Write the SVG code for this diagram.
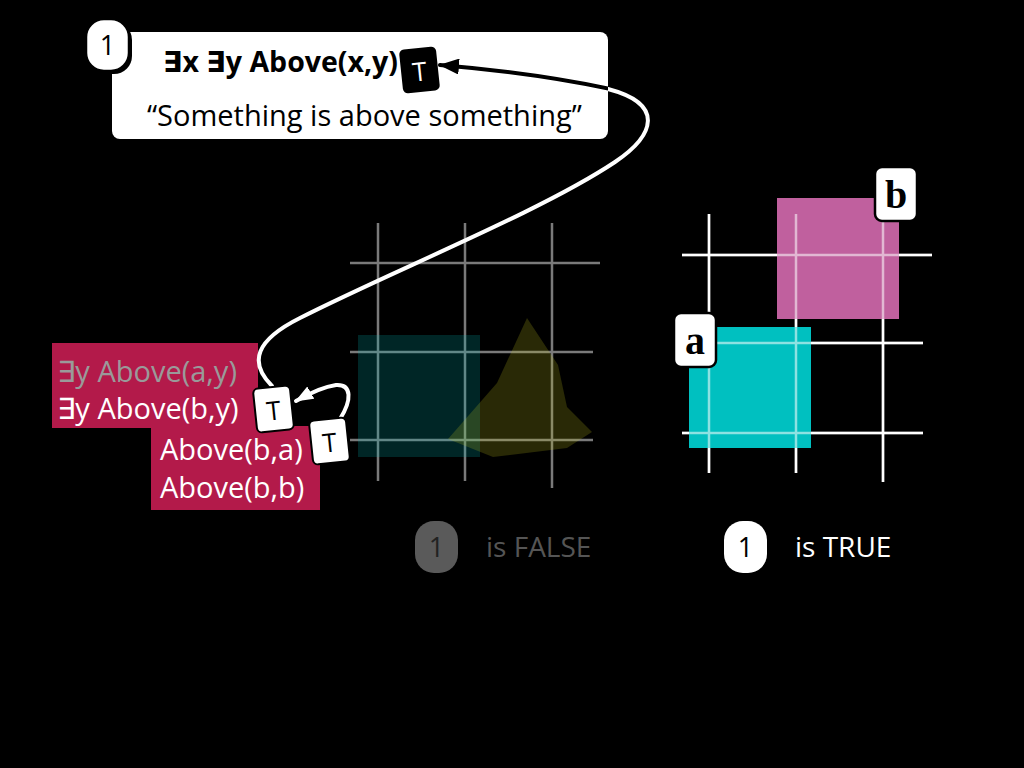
<svg xmlns="http://www.w3.org/2000/svg" width="1024" height="768" viewBox="0 0 1024 768">
<defs>
<style>
.t{font-family:"Open Sans","Noto Sans","DejaVu Sans",sans-serif}
.gl{stroke:#7a7a7a;stroke-width:2.5;fill:none}
.wl{stroke:#ffffff;stroke-width:2.5;fill:none}
.red{fill:#b31a4a}
.lbl{fill:#fff;stroke:#000;stroke-width:2.5}
</style>
<marker id="ahB" viewBox="0 0 20 16" refX="19" refY="8" markerWidth="20" markerHeight="16" markerUnits="userSpaceOnUse" orient="auto"><path d="M0,0 L20,8 L0,16 Z" fill="#000"/></marker>
<marker id="ahW" viewBox="0 0 18 14" refX="17" refY="7" markerWidth="18" markerHeight="14" markerUnits="userSpaceOnUse" orient="auto"><path d="M0,0 L18,7 L0,14 Z" fill="#fff"/></marker>
<clipPath id="inBox"><rect x="112" y="32" width="496" height="107" rx="8"/></clipPath>
<clipPath id="outBox"><path d="M0,0H1024V768H0Z M112,32 V139 H608 V32 Z" clip-rule="evenodd"/></clipPath>
</defs>
<rect width="1024" height="768" fill="#000"/>

<!-- left (false) world -->
<g id="world-false">
<g class="gl">
<line x1="378" y1="223" x2="378" y2="481"/><line x1="465" y1="223" x2="465" y2="481"/><line x1="552" y1="223" x2="552" y2="488"/>
<line x1="350" y1="263" x2="600" y2="263"/><line x1="350" y1="352" x2="593" y2="352"/><line x1="350" y1="440" x2="593" y2="440"/>
</g>
<rect x="358" y="335" width="122" height="122" fill="#00bebe" opacity="0.2"/>
<polygon points="527,318 558,365 567,407 592,432 567,448 493,457 448,439 497,383" fill="#cccc20" opacity="0.2"/>
</g>

<!-- right (true) world -->
<g id="world-true">
<g class="wl">
<line x1="709" y1="214" x2="709" y2="473"/><line x1="796" y1="214" x2="796" y2="473"/><line x1="883" y1="214" x2="883" y2="482"/>
<line x1="682" y1="255" x2="932" y2="255"/><line x1="682" y1="343" x2="923" y2="343"/><line x1="682" y1="433" x2="923" y2="433"/>
</g>
<rect id="sq-b" x="777" y="198" width="122" height="121" fill="#c0609e"/>
<rect id="sq-a" x="689" y="327" width="122" height="121" fill="#00c0c0"/>
<g class="wl" opacity="0.55">
<line x1="709" y1="214" x2="709" y2="473"/><line x1="796" y1="214" x2="796" y2="473"/><line x1="883" y1="214" x2="883" y2="482"/>
<line x1="682" y1="255" x2="932" y2="255"/><line x1="682" y1="343" x2="923" y2="343"/><line x1="682" y1="433" x2="923" y2="433"/>
</g>
</g>
<g id="label-b"><rect class="lbl" x="875" y="167" width="42" height="54" rx="7"/><text x="896" y="208" text-anchor="middle" font-family="Liberation Serif,serif" font-weight="bold" font-size="40" fill="#000">b</text></g>
<g id="label-a"><rect class="lbl" x="674" y="313" width="42" height="54" rx="7"/><text x="695" y="354" text-anchor="middle" font-family="Liberation Serif,serif" font-weight="bold" font-size="40" fill="#000">a</text></g>

<!-- sentence box -->
<g id="sentence">
<rect x="112" y="32" width="496" height="107" rx="8" fill="#fff"/>
<text class="t" x="163" y="72" font-size="28.5" font-weight="bold" fill="#000">∃x ∃y Above(x,y)</text>
<text class="t" x="147" y="126" font-size="29" fill="#000">“Something is above something”</text>
</g>
<g id="badge-1">
<rect x="89" y="22" width="43" height="52" rx="18" fill="#000"/>
<rect x="86" y="19" width="43" height="52" rx="18" fill="#fff" stroke="#000" stroke-width="2.5"/>
<text class="t" x="107.5" y="55" text-anchor="middle" font-size="27" fill="#000">1</text>
</g>

<!-- red boxes -->
<g id="box-exists">
<rect class="red" x="52" y="343" width="206" height="85"/>
<text class="t" x="57" y="382" font-size="29" fill="#9a9a9a">∃y Above(a,y)</text>
<text class="t" x="57" y="419" font-size="29" fill="#fff">∃y Above(b,y)</text>
</g>
<g id="box-above">
<rect class="red" x="151" y="426" width="169" height="84"/>
<text class="t" x="160" y="460" font-size="29" fill="#fff">Above(b,a)</text>
<text class="t" x="160" y="498" font-size="29" fill="#fff">Above(b,b)</text>
</g>

<!-- connectors -->
<g id="connectors" fill="none" stroke-linecap="round">
<path d="M272,386 C248,362 256,340 300,318 C390,272 540,212 615,162 C655,135 665,104 608,89" stroke="#fff" stroke-width="4" clip-path="url(#outBox)"/>
<path d="M615,90 C560,78 500,70 440,65" stroke="#000" stroke-width="4" marker-end="url(#ahB)" clip-path="url(#inBox)"/>
<path d="M340,419 C352,400 352,384 336,385 C322,387 310,393 296,401" stroke="#fff" stroke-width="4" marker-end="url(#ahW)"/>
</g>

<!-- T badges -->
<g id="t-top" transform="rotate(-6 419 70)">
<rect x="401" y="48" width="37" height="44" rx="5" fill="#000"/>
<text class="t" x="419.5" y="81" text-anchor="middle" font-size="26" fill="#fff">T</text>
</g>
<g id="t-exists" transform="rotate(-6 274 409)">
<rect x="255" y="387" width="37" height="44" rx="5" fill="#fff" stroke="#000" stroke-width="2"/>
<text class="t" x="273.5" y="420" text-anchor="middle" font-size="26" fill="#000">T</text>
</g>
<g id="t-above" transform="rotate(-6 330 441)">
<rect x="311" y="419" width="37" height="44" rx="5" fill="#fff" stroke="#000" stroke-width="2"/>
<text class="t" x="329.5" y="452" text-anchor="middle" font-size="26" fill="#000">T</text>
</g>

<!-- verdicts -->
<g id="verdict-false">
<rect x="415" y="521" width="43" height="52" rx="19" fill="#5a5a5a"/>
<text class="t" x="436.5" y="557" text-anchor="middle" font-size="27" fill="#222">1</text>
<text class="t" x="486" y="557" font-size="28" fill="#555">is FALSE</text>
</g>
<g id="verdict-true">
<rect x="724" y="521" width="43" height="52" rx="19" fill="#fff"/>
<text class="t" x="745.5" y="557" text-anchor="middle" font-size="27" fill="#000">1</text>
<text class="t" x="795" y="557" font-size="28" fill="#fff">is TRUE</text>
</g>
</svg>
